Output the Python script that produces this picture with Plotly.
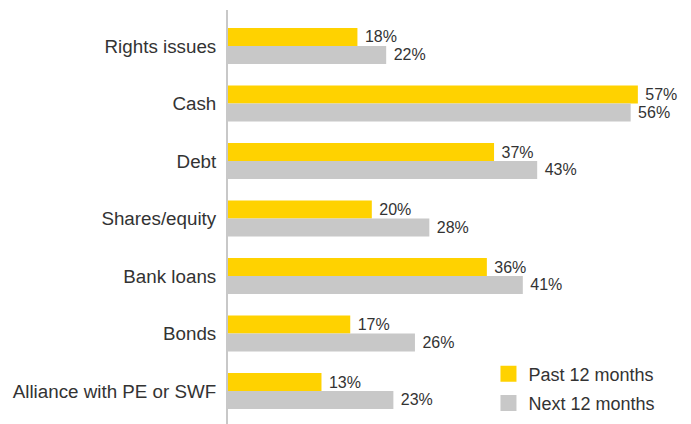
import plotly.graph_objects as go

# Funding sources, in display order (top to bottom)
categories = ["Rights issues", "Cash", "Debt", "Shares/equity",
              "Bank loans", "Bonds", "Alliance with PE or SWF"]
past_12 = [18, 57, 37, 20, 36, 17, 13]
next_12 = [22, 56, 43, 28, 41, 26, 23]
series_names = ["Past 12 months", "Next 12 months"]

YELLOW = "#FFD200"
GREY = "#C8C8C8"
TEXT = "#333333"
FONT = "Liberation Sans, Arial, sans-serif"

fig = go.Figure()
for name, vals, col in [(series_names[0], past_12, YELLOW),
                        (series_names[1], next_12, GREY)]:
    fig.add_trace(go.Bar(
        y=categories, x=vals, orientation="h", name=name,
        marker=dict(color=col, line=dict(width=0)),
        texttemplate=" %{x}%", textposition="outside",
        textfont=dict(size=16, color=TEXT, family=FONT),
        constraintext="none", cliponaxis=False,
        showlegend=False, legendgroup=name,
    ))
    # legend swatch
    fig.add_trace(go.Scatter(
        x=[None], y=[None], mode="markers", name=name,
        marker=dict(symbol="square", size=16, color=col),
        legendgroup=name, showlegend=True,
    ))

fig.update_layout(
    width=691, height=424,
    margin=dict(l=228, r=10, t=10, b=0),
    paper_bgcolor="white", plot_bgcolor="white",
    barmode="group", bargap=0.374, bargroupgap=0,
    font=dict(family=FONT, color=TEXT, size=18),
    xaxis=dict(range=[0, 63], visible=False, fixedrange=True),
    yaxis=dict(
        categoryorder="array", categoryarray=categories,
        range=[6.574, -0.626],
        showline=True, linecolor=GREY, linewidth=2,
        showgrid=False, zeroline=False,
        ticks="", ticklabelstandoff=6,
        tickfont=dict(size=18.8, color=TEXT, family=FONT),
    ),
    legend=dict(
        x=0.575, xanchor="left", y=0.006, yanchor="bottom",
        font=dict(size=18, color=TEXT, family=FONT),
        bgcolor="rgba(0,0,0,0)", tracegroupgap=3,
        itemclick=False, itemdoubleclick=False,
    ),
)

fig.write_html("out.html")
